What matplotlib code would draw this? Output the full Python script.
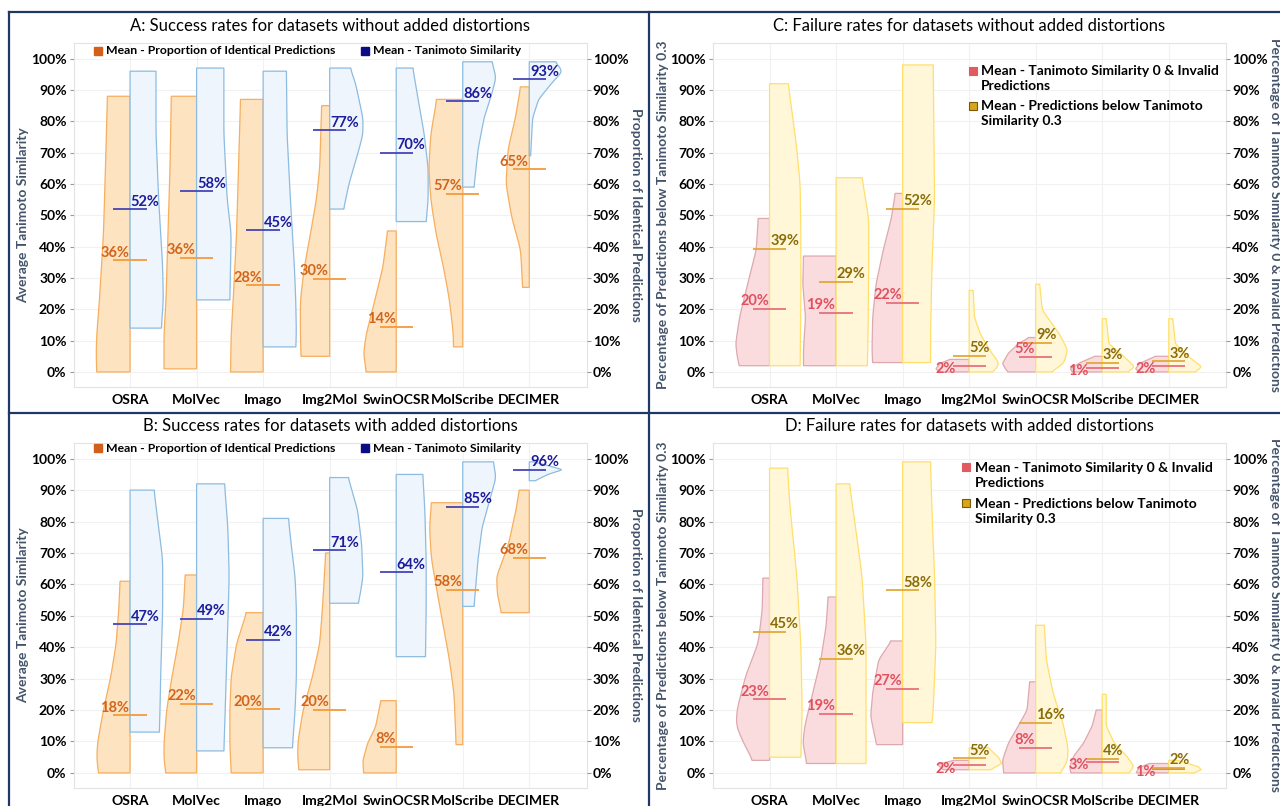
import numpy as np
import matplotlib
matplotlib.use("Agg")
import matplotlib.pyplot as plt
from matplotlib.patches import Polygon
from matplotlib.lines import Line2D

plt.rcParams['font.family'] = ['Lato', 'DejaVu Sans']

tools = ["OSRA", "MolVec", "Imago", "Img2Mol", "SwinOCSR", "MolScribe", "DECIMER"]
yticks = [0, 10, 20, 30, 40, 50, 60, 70, 80, 90, 100]
ytick_labels = [f"{v}%" for v in yticks]

# ---- Panel A: success rates without distortions ----
A_ident_mean = [35.6, 36.4, 27.7, 29.8, 14.4, 56.9, 64.7]
A_tani_mean = [51.9, 57.7, 45.2, 77.1, 69.9, 86.4, 93.4]
A_ident_shape = [
    [(88, 0.34), (65, 0.37), (44, 0.40), (33.5, 0.43), (23, 0.46), (12, 0.50), (6, 0.51), (0, 0.50)],
    [(88, 0.38), (65, 0.40), (44, 0.43), (23, 0.46), (12, 0.49), (4, 0.49), (1, 0.49)],
    [(87, 0.34), (65, 0.37), (44, 0.40), (23, 0.45), (12, 0.48), (0, 0.49)],
    [(85, 0.12), (65, 0.15), (55, 0.20), (44, 0.29), (33.5, 0.38), (23, 0.44), (12, 0.44), (5, 0.43)],
    [(45, 0.13), (33.5, 0.20), (23, 0.32), (12, 0.45), (6, 0.49), (0, 0.45)],
    [(87, 0.39), (76, 0.48), (65, 0.51), (55, 0.48), (44, 0.40), (33.5, 0.29), (23, 0.20), (12, 0.14), (8, 0.14)],
    [(91, 0.13), (81, 0.21), (71, 0.32), (60, 0.35), (49, 0.26), (39, 0.13), (27, 0.10)],
]
A_tani_shape = [
    [(96, 0.39), (76, 0.39), (55, 0.43), (33.5, 0.49), (23, 0.50), (14, 0.47)],
    [(97, 0.41), (76, 0.41), (55, 0.46), (44, 0.52), (33.5, 0.51), (23, 0.50)],
    [(96, 0.35), (76, 0.36), (55, 0.41), (33.5, 0.47), (23, 0.49), (12, 0.50), (8, 0.49)],
    [(97, 0.31), (92, 0.39), (81, 0.50), (76, 0.50), (71, 0.44), (60, 0.29), (52, 0.21)],
    [(97, 0.25), (87, 0.33), (76, 0.42), (65, 0.48), (55, 0.48), (48, 0.45)],
    [(99, 0.44), (94, 0.50), (89, 0.44), (81, 0.32), (71, 0.23), (59, 0.17)],
    [(99, 0.39), (96, 0.50), (92, 0.33), (87, 0.14), (81, 0.05), (69, 0.02)],
]

# ---- Panel B: success rates with distortions ----
B_ident_mean = [18.3, 21.9, 20.2, 20.0, 8.3, 58.2, 68.4]
B_tani_mean = [47.3, 49.0, 42.3, 70.8, 63.9, 84.7, 96.4]
B_ident_shape = [
    [(61, 0.15), (52, 0.17), (41, 0.21), (30.6, 0.29), (20, 0.40), (9.4, 0.49), (4, 0.50), (0, 0.47)],
    [(63, 0.17), (52, 0.20), (41, 0.28), (30.6, 0.37), (20, 0.45), (9.4, 0.49), (4, 0.49), (0, 0.46)],
    [(51, 0.25), (41, 0.40), (30.6, 0.48), (20, 0.50), (9.4, 0.50), (0, 0.48)],
    [(70, 0.06), (62.5, 0.08), (52, 0.11), (41, 0.15), (30.6, 0.26), (20, 0.40), (9.4, 0.48), (4, 0.48), (1, 0.46)],
    [(23, 0.23), (14.7, 0.31), (9.4, 0.43), (4, 0.50), (0, 0.49)],
    [(86, 0.47), (78, 0.50), (68, 0.47), (57, 0.38), (46.5, 0.29), (36, 0.20), (25, 0.13), (9, 0.10)],
    [(90, 0.15), (83.7, 0.20), (73, 0.31), (62.5, 0.49), (57, 0.48), (51, 0.42)],
]
B_tani_shape = [
    [(90, 0.36), (78, 0.43), (68, 0.49), (52, 0.49), (30.6, 0.46), (20, 0.45), (13, 0.44)],
    [(92, 0.42), (78, 0.47), (62.5, 0.49), (41, 0.46), (20, 0.43), (7, 0.41)],
    [(81, 0.38), (73, 0.42), (62.5, 0.48), (52, 0.50), (30.6, 0.50), (20, 0.48), (8, 0.44)],
    [(94, 0.28), (83.5, 0.42), (73, 0.48), (62.5, 0.50), (57, 0.46), (54, 0.43)],
    [(95, 0.40), (83.7, 0.43), (68, 0.45), (52, 0.45), (37, 0.44)],
    [(99, 0.46), (94, 0.50), (88, 0.42), (78, 0.29), (68, 0.23), (53, 0.17)],
    [(99, 0.06), (98, 0.25), (96.5, 0.50), (95, 0.28), (93, 0.09)],
]

# ---- Panel C: failure rates without distortions ----
C_invalid_mean = [20.2, 18.8, 22.1, 1.9, 4.8, 1.4, 1.8]
C_below_mean = [39.4, 28.7, 52.1, 5.2, 9.4, 3.0, 3.4]
C_invalid_shape = [
    [(49, 0.17), (39, 0.20), (28, 0.33), (17.5, 0.45), (9, 0.51), (4, 0.48), (2, 0.45)],
    [(37, 0.49), (28, 0.50), (17.5, 0.46), (7, 0.49), (2, 0.49)],
    [(57, 0.11), (49, 0.17), (39, 0.29), (28, 0.40), (17.5, 0.45), (7, 0.46), (3, 0.45)],
    [(4, 0.29), (2.7, 0.44), (1, 0.50), (0, 0.44)],
    [(11, 0.10), (9, 0.26), (6, 0.41), (2.7, 0.50), (0.5, 0.44), (0, 0.41)],
    [(5, 0.11), (3, 0.33), (1, 0.48), (0, 0.45)],
    [(5, 0.20), (2.7, 0.44), (1, 0.50), (0, 0.44)],
]
C_below_shape = [
    [(92, 0.28), (81, 0.35), (71, 0.41), (60, 0.46), (44, 0.47), (23, 0.47), (2, 0.46)],
    [(62, 0.39), (49, 0.49), (33.5, 0.49), (12, 0.48), (2, 0.47)],
    [(98, 0.46), (76, 0.47), (55, 0.48), (33, 0.44), (12, 0.42), (3, 0.42)],
    [(26, 0.06), (17.5, 0.08), (12, 0.17), (7, 0.31), (2.7, 0.45), (0.5, 0.39), (0, 0.33)],
    [(28, 0.06), (19.7, 0.10), (12, 0.36), (7, 0.48), (2.7, 0.42), (0, 0.23)],
    [(17, 0.06), (9, 0.10), (5, 0.32), (1.6, 0.49), (0, 0.38)],
    [(17, 0.06), (9, 0.10), (5, 0.29), (1.6, 0.50), (0, 0.39)],
]

# ---- Panel D: failure rates with distortions ----
D_invalid_mean = [23.4, 18.9, 26.8, 2.4, 8.0, 3.4, 1.4]
D_below_mean = [44.9, 36.3, 58.1, 4.6, 15.9, 4.4, 1.6]
D_invalid_shape = [
    [(62, 0.10), (52, 0.11), (41.4, 0.17), (30.8, 0.36), (20, 0.49), (15, 0.50), (9.5, 0.39), (4, 0.25)],
    [(56, 0.12), (46.7, 0.15), (36, 0.23), (25.5, 0.35), (15, 0.47), (9.5, 0.50), (3, 0.44)],
    [(42, 0.17), (36, 0.36), (25.5, 0.45), (18, 0.48), (11.7, 0.42), (9, 0.39)],
    [(4, 0.23), (2.7, 0.48), (1, 0.39)],
    [(29, 0.09), (20, 0.13), (15, 0.26), (9.5, 0.41), (4, 0.50), (0, 0.48)],
    [(20, 0.09), (15, 0.15), (9.5, 0.28), (5.3, 0.43), (2, 0.49), (0, 0.47)],
    [(3, 0.29), (1.6, 0.45), (0, 0.49)],
]
D_below_shape = [
    [(97, 0.27), (84, 0.31), (62.6, 0.41), (41, 0.47), (20, 0.49), (5, 0.47)],
    [(92, 0.20), (78.5, 0.29), (62.6, 0.39), (41, 0.45), (20, 0.45), (3, 0.45)],
    [(99, 0.42), (84, 0.44), (62.6, 0.48), (41, 0.50), (20, 0.46), (16, 0.44)],
    [(8, 0.29), (5, 0.44), (3, 0.49), (1, 0.32)],
    [(47, 0.13), (36, 0.16), (25.5, 0.26), (15, 0.42), (7.4, 0.49), (3, 0.47), (0, 0.36)],
    [(25, 0.06), (15, 0.06), (9.5, 0.18), (5.3, 0.37), (2, 0.48), (0, 0.40)],
    [(4, 0.13), (2, 0.44), (1, 0.49), (0, 0.38)],
]

titles = {
    "A": "A: Success rates for datasets without added distortions",
    "B": "B: Success rates for datasets with added distortions",
    "C": "C: Failure rates for datasets without added distortions",
    "D": "D: Failure rates for datasets with added distortions",
}
legend_success = ["Mean - Proportion of Identical Predictions", "Mean - Tanimoto Similarity"]
legend_failure = ["Mean - Tanimoto Similarity 0 & Invalid\nPredictions",
                  "Mean - Predictions below Tanimoto\nSimilarity 0.3"]
ylabel_success = ("Average Tanimoto Similarity", "Proportion of Identical Predictions")
ylabel_failure = ("Percentage of Predictions below Tanimoto Similarity 0.3",
                  "Percentage of Tanimoto Similarity 0 & Invalid Predictions")

# ---- styles ----
STY = {
    "orange": dict(face="#FEE3C0", edge="#F7AE5E", line="#F59A3C", text="#D2651C", mark="#D2601A"),
    "blue": dict(face="#EEF5FC", edge="#8DBCE0", line="#4545B8", text="#1C1C9C", mark="#0B0B85"),
    "pink": dict(face="#FADCDF", edge="#DDA9AF", line="#E8707A", text="#E0505D", mark="#E05A60"),
    "yellow": dict(face="#FFF7D8", edge="#FFDF6A", line="#E0AA3A", text="#8A6D08", mark="#D9A520"),
}
W, H = 1280, 806
fig = plt.figure(figsize=(12.8, 8.06), dpi=100)
fig.patch.set_facecolor("white")


def profile(prof, n=240):
    ys = np.array([p[0] for p in prof], float)
    ws = np.array([p[1] for p in prof], float)
    o = np.argsort(ys)
    ys, ws = ys[o], ws[o]
    yy = np.linspace(ys[0], ys[-1], n)
    ww = np.interp(yy, ys, ws)
    k = 14
    ker = np.exp(-0.5 * (np.arange(-k, k + 1) / (k / 2.2)) ** 2)
    ker /= ker.sum()
    ww = np.convolve(np.pad(ww, k, mode="edge"), ker, mode="valid")
    return yy, ww


def half_violin(ax, c, prof, side, st):
    yy, ww = profile(prof)
    xs = c + side * ww
    verts = [(c, yy[0])] + list(zip(xs, yy)) + [(c, yy[-1])]
    ax.add_patch(Polygon(verts, closed=True, facecolor=st["face"], edgecolor=st["edge"],
                         lw=0.9, zorder=2))


def make_axes(px_left, px_top, px_bottom):
    ax = fig.add_axes([px_left / W, (H - px_bottom) / H, 513 / W, (px_bottom - px_top) / H])
    return ax


def setup(ax, key, ylabels):
    ax.set_xlim(-0.85, 6.86)
    ax.set_ylim(-4.8, 105.0)
    ax.set_xticks(range(len(tools)))
    ax.set_xticklabels(tools, fontsize=10.1, fontweight="bold")
    ax.set_yticks(yticks)
    ax.set_yticklabels(ytick_labels, fontsize=10, fontweight="bold")
    ax.tick_params(axis="x", length=0, pad=5)
    ax.tick_params(axis="y", length=3, width=0.8, color="#999999", pad=2)
    ax.grid(True, color="#F1F1F1", lw=0.8)
    ax.set_axisbelow(True)
    for s in ax.spines.values():
        s.set_color("#E3E3E3")
        s.set_linewidth(0.8)
    ax.set_ylabel(ylabels[0], fontsize=10, fontweight="bold", color="#44546A")
    ax.yaxis.set_label_coords(-0.086, 0.5)
    ax2 = ax.twinx()
    ax2.set_ylim(ax.get_ylim())
    ax2.set_yticks(yticks)
    ax2.set_yticklabels(ytick_labels, fontsize=10, fontweight="bold")
    ax2.tick_params(axis="y", length=3, width=0.8, color="#999999", pad=1.5)
    for s in ax2.spines.values():
        s.set_visible(False)
    ax2.set_ylabel(ylabels[1], fontsize=10, fontweight="bold", color="#44546A", rotation=270,
                   va="center")
    ax2.yaxis.set_label_coords(1.096, 0.5)
    ax.text(0.5, 1.049, titles[key], transform=ax.transAxes, ha="center", va="center",
            fontsize=12)


def draw_panel(ax, left_shapes, right_shapes, left_means, right_means, lsty, rsty, failure):
    for i in range(len(tools)):
        half_violin(ax, i, left_shapes[i], -1, STY[lsty])
        half_violin(ax, i, right_shapes[i], +1, STY[rsty])
    for i in range(len(tools)):
        for m, st, side in ((left_means[i], STY[lsty], -1), (right_means[i], STY[rsty], 1)):
            ax.plot([i - 0.25, i + 0.25], [m, m], color=st["line"], lw=1.3, zorder=3,
                    solid_capstyle="butt")
            lab = f"{round(m)}%"
            if side < 0:
                if failure and round(m) <= 3:
                    ax.text(i - 0.2, m - 1.0, lab, ha="right", va="center", color=st["text"],
                            fontsize=10.5, fontweight="bold", zorder=4)
                else:
                    ax.text(i - 0.01, m + 0.2, lab, ha="right", va="bottom", color=st["text"],
                            fontsize=10.5, fontweight="bold", zorder=4)
            else:
                ax.text(i + 0.01, m + 0.2, lab, ha="left", va="bottom", color=st["text"],
                        fontsize=10.5, fontweight="bold", zorder=4)


def legend_success_draw(ax, yfrac):
    for xm, xt, lab, st in ((0.048, 0.0624, legend_success[0], STY["orange"]),
                            (0.568, 0.583, legend_success[1], STY["blue"])):
        ax.plot([xm], [yfrac], marker="s", ms=5.5, color=st["mark"], transform=ax.transAxes,
                clip_on=False, zorder=5)
        ax.text(xt, yfrac, lab, transform=ax.transAxes, ha="left", va="center", fontsize=8.8,
                fontweight="bold", zorder=5)


def legend_failure_draw(ax, xm, xt, y1, y2):
    for y, lab, st, ec in ((y1, legend_failure[0], STY["pink"], STY["pink"]["mark"]),
                           (y2, legend_failure[1], STY["yellow"], "#7A5C00")):
        ax.plot([xm], [y], marker="s", ms=6, color=st["mark"], mec=ec, mew=0.8,
                transform=ax.transAxes, clip_on=False, zorder=5)
        ax.text(xt, y + 0.016, lab, transform=ax.transAxes, ha="left", va="top",
                fontsize=10, fontweight="bold", linespacing=1.3, zorder=5)


axA = make_axes(73.5, 43, 387)
setup(axA, "A", ylabel_success)
draw_panel(axA, A_ident_shape, A_tani_shape, A_ident_mean, A_tani_mean, "orange", "blue", False)
legend_success_draw(axA, 0.977)

axB = make_axes(73.5, 443, 788)
setup(axB, "B", ylabel_success)
draw_panel(axB, B_ident_shape, B_tani_shape, B_ident_mean, B_tani_mean, "orange", "blue", False)
legend_success_draw(axB, 0.985)

axC = make_axes(713, 43, 387)
setup(axC, "C", ylabel_failure)
draw_panel(axC, C_invalid_shape, C_below_shape, C_invalid_mean, C_below_mean, "pink", "yellow", True)
legend_failure_draw(axC, 0.507, 0.522, 0.919, 0.817)

axD = make_axes(713, 443, 788)
setup(axD, "D", ylabel_failure)
draw_panel(axD, D_invalid_shape, D_below_shape, D_invalid_mean, D_below_mean, "pink", "yellow", True)
legend_failure_draw(axD, 0.493, 0.511, 0.930, 0.826)

# panel frames
navy = "#1F3864"
def fline(x0, y0, x1, y1):
    fig.add_artist(Line2D([x0 / W, x1 / W], [1 - y0 / H, 1 - y1 / H], color=navy, lw=1.6,
                          transform=fig.transFigure, zorder=10))
fline(9, 12, W, 12)
fline(9, 12, 9, H)
fline(649, 12, 649, H)
fline(9, 413, W, 413)

fig.savefig("out.png", dpi=100)
